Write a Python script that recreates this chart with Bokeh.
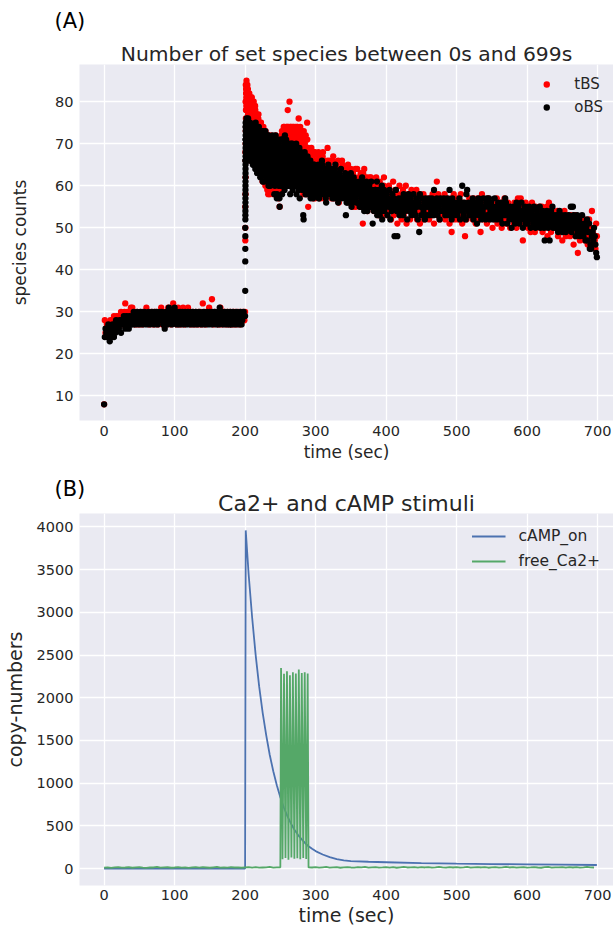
from bokeh.plotting import figure
from bokeh.layouts import column
from bokeh.models import Range1d, FixedTicker, Title, Legend, LegendItem
from bokeh.embed import file_html
from bokeh.resources import INLINE

FONT = "DejaVu Sans"
TXT = "#262626"

# ---------------- Panel A : species counts ----------------
x_ticks = [0, 100, 200, 300, 400, 500, 600, 700]
yA_ticks = [10, 20, 30, 40, 50, 60, 70, 80]

time_pre = list(range(0, 200))                    # 1 s samples
time_mid = [200 + k / 2 for k in range(200)]      # 200.0 .. 299.5
time_mid2 = [200.25 + k / 2 for k in range(200)]  # 200.25 .. 299.75
time_post = list(range(300, 700))                 # 300 .. 699
time_post2 = [300.5 + k for k in range(100)]      # 300.5 .. 399.5

tbs_pre = [
    8, 28, 25, 26, 27, 25, 26, 27, 26, 28, 27, 26, 28, 27, 29, 28, 27, 28, 29, 28,
    28, 29, 27, 28, 30, 29, 28, 27, 29, 30, 32, 29, 28, 30, 27, 29, 28, 30, 31, 29,
    31, 28, 29, 30, 27, 29, 28, 30, 29, 27, 28, 30, 29, 28, 27, 30, 29, 28, 30, 29,
    31, 29, 28, 30, 27, 29, 28, 30, 29, 28, 27, 30, 29, 28, 30, 29, 27, 28, 29, 30,
    28, 31, 29, 27, 30, 28, 29, 30, 27, 28, 29, 31, 28, 30, 29, 27, 28, 30, 32, 29,
    28, 30, 29, 27, 28, 31, 29, 30, 27, 28, 29, 30, 31, 28, 27, 29, 30, 28, 29, 31,
    28, 29, 30, 27, 28, 29, 30, 28, 27, 29, 30, 28, 29, 27, 30, 29, 28, 30, 27, 29,
    32, 29, 28, 30, 27, 29, 28, 30, 29, 31, 28, 30, 29, 33, 28, 27, 29, 30, 28, 29,
    28, 30, 27, 29, 28, 31, 29, 27, 30, 28, 29, 30, 28, 27, 29, 30, 28, 29, 27, 30,
    29, 28, 27, 30, 29, 28, 30, 27, 29, 28, 30, 29, 28, 27, 30, 29, 28, 30, 29, 28,
]
obs_pre = [
    8, 24, 26, 25, 24, 26, 27, 25, 23, 26, 24, 25, 27, 26, 24, 27, 25, 28, 26, 27,
    27, 26, 28, 27, 25, 28, 27, 28, 29, 27, 26, 28, 29, 27, 28, 26, 29, 28, 27, 28,
    29, 27, 30, 28, 29, 27, 28, 30, 29, 28, 27, 29, 30, 28, 29, 27, 28, 30, 29, 28,
    27, 29, 28, 30, 29, 27, 28, 29, 30, 28, 29, 27, 30, 28, 29, 30, 27, 28, 29, 30,
    28, 29, 30, 28, 27, 29, 26, 28, 30, 29, 27, 28, 31, 29, 28, 30, 27, 29, 28, 30,
    31, 29, 28, 27, 30, 28, 29, 27, 30, 28, 29, 30, 27, 28, 29, 30, 28, 27, 29, 30,
    29, 28, 27, 30, 29, 28, 30, 27, 29, 28, 30, 29, 27, 28, 29, 30, 28, 29, 27, 28,
    29, 30, 28, 27, 29, 28, 30, 29, 27, 28, 30, 29, 28, 27, 30, 29, 28, 30, 29, 27,
    28, 29, 30, 27, 31, 28, 29, 30, 28, 27, 29, 30, 28, 29, 27, 30, 29, 28, 27, 30,
    29, 27, 28, 30, 29, 28, 27, 29, 30, 28, 29, 27, 28, 30, 29, 27, 28, 29, 30, 29,
]
tbs_mid = [
    30, 68, 84, 78, 85, 72, 81, 76, 83, 70, 79, 74, 82, 67, 77, 80, 71, 78, 75, 81,
    76, 69, 79, 73, 66, 77, 71, 75, 68, 78, 72, 74, 67, 76, 70, 73, 75, 65, 77, 71,
    74, 66, 72, 70, 63, 75, 68, 71, 64, 73, 69, 62, 74, 67, 70, 61, 72, 66, 73, 64,
    70, 62, 68, 59, 72, 65, 60, 71, 64, 67, 58, 69, 63, 72, 61, 66, 70, 59, 65, 68,
    63, 71, 58, 66, 69, 61, 64, 72, 59, 67, 62, 70, 60, 65, 68, 57, 63, 71, 55, 66,
    61, 68, 64, 72, 59, 70, 66, 73, 62, 69, 65, 74, 60, 71, 67, 73, 63, 72, 69, 74,
    66, 78, 70, 73, 62, 74, 80, 68, 72, 61, 74, 69, 73, 65, 71, 74, 63, 70, 73, 67,
    72, 64, 74, 69, 60, 73, 67, 71, 62, 74, 68, 72, 76, 65, 70, 59, 73, 66, 71, 63,
    69, 73, 62, 67, 72, 58, 70, 64, 68, 71, 61, 66, 72, 60, 65, 69, 75, 63, 67, 55,
    66, 60, 68, 63, 58, 67, 61, 65, 69, 59, 64, 62, 67, 57, 63, 66, 60, 68, 62, 64,
]
tbs_mid2 = [
    55, 80, 74, 83, 69, 79, 84, 73, 77, 82, 68, 76, 80, 72, 78, 66, 75, 81, 70, 77,
    73, 78, 67, 75, 80, 70, 74, 66, 79, 72, 76, 69, 73, 77, 65, 74, 71, 76, 68, 72,
    67, 73, 65, 71, 75, 62, 70, 66, 74, 61, 68, 72, 65, 69, 63, 71, 67, 60, 70, 66,
    64, 69, 61, 66, 70, 58, 67, 63, 71, 60, 65, 68, 62, 59, 66, 71, 64, 61, 67, 63,
    68, 60, 65, 71, 62, 58, 67, 64, 69, 61, 66, 59, 70, 63, 58, 67, 61, 65, 69, 62,
    70, 63, 71, 66, 73, 61, 68, 72, 64, 74, 67, 70, 62, 73, 66, 71, 74, 64, 70, 72,
    71, 74, 64, 69, 72, 66, 73, 70, 62, 74, 67, 71, 60, 73, 68, 72, 65, 74, 69, 71,
    66, 73, 70, 63, 72, 68, 74, 61, 71, 66, 73, 64, 69, 72, 62, 70, 74, 67, 60, 72,
    66, 70, 64, 72, 61, 68, 73, 65, 62, 70, 67, 71, 63, 68, 58, 66, 71, 64, 69, 61,
    63, 67, 59, 65, 62, 68, 60, 66, 58, 64, 67, 61, 65, 59, 63, 68, 61, 64, 57, 62,
]
obs_mid = [
    29, 66, 74, 70, 76, 68, 72, 75, 67, 73, 70, 74, 66, 71, 75, 69, 73, 67, 72, 74,
    68, 72, 65, 74, 70, 66, 73, 69, 71, 64, 75, 67, 72, 70, 63, 73, 68, 71, 66, 74,
    70, 65, 73, 62, 68, 71, 64, 72, 67, 69, 61, 73, 66, 70, 63, 72, 68, 65, 71, 62,
    67, 71, 63, 69, 61, 72, 65, 68, 62, 70, 64, 67, 60, 71, 66, 63, 69, 61, 68, 64,
    70, 62, 66, 58, 68, 64, 61, 71, 63, 67, 57, 69, 65, 62, 70, 60, 66, 63, 55, 68,
    64, 60, 69, 62, 67, 58, 65, 71, 61, 66, 63, 68, 59, 72, 64, 70, 62, 65, 68, 60,
    67, 63, 69, 60, 66, 70, 62, 68, 58, 65, 69, 61, 67, 64, 70, 59, 66, 63, 68, 62,
    65, 69, 61, 67, 63, 70, 58, 66, 64, 68, 60, 67, 62, 65, 69, 57, 66, 63, 68, 61,
    64, 60, 67, 62, 66, 53, 52, 65, 61, 68, 59, 64, 62, 66, 58, 65, 61, 67, 60, 63,
    62, 65, 58, 64, 60, 66, 57, 63, 61, 65, 59, 62, 64, 57, 63, 60, 65, 58, 62, 61,
]
obs_mid2 = [
    50, 71, 75, 69, 73, 66, 74, 70, 76, 67, 72, 69, 75, 68, 73, 71, 66, 74, 70, 72,
    71, 67, 74, 69, 72, 65, 70, 73, 68, 72, 66, 71, 74, 67, 70, 72, 65, 69, 73, 67,
    69, 72, 66, 70, 64, 73, 67, 70, 63, 71, 68, 65, 72, 69, 61, 70, 66, 73, 64, 69,
    65, 68, 70, 63, 67, 72, 60, 69, 66, 64, 71, 62, 68, 65, 70, 61, 67, 72, 63, 66,
    66, 69, 63, 70, 60, 67, 72, 62, 65, 69, 58, 66, 71, 64, 61, 68, 63, 57, 66, 62,
    67, 62, 71, 65, 60, 69, 63, 68, 66, 61, 70, 64, 67, 62, 69, 65, 71, 60, 66, 63,
    64, 68, 61, 67, 63, 69, 65, 60, 67, 63, 70, 64, 62, 68, 66, 61, 69, 64, 60, 67,
    62, 67, 64, 60, 68, 65, 62, 69, 61, 66, 63, 68, 59, 65, 67, 62, 64, 60, 66, 63,
    61, 65, 63, 59, 66, 62, 64, 60, 67, 62, 65, 58, 63, 66, 61, 64, 59, 62, 66, 60,
    64, 60, 62, 66, 59, 63, 61, 65, 58, 62, 64, 60, 63, 59, 65, 61, 62, 58, 64, 60,
]
tbs_post = [
    63, 58, 66, 61, 68, 60, 64, 57, 65, 62, 67, 59, 63, 66, 58, 64, 61, 69, 60, 65,
    62, 66, 58, 64, 60, 67, 57, 63, 61, 65, 59, 62, 66, 56, 63, 60, 64, 58, 65, 61,
    59, 64, 61, 57, 63, 60, 65, 58, 62, 56, 64, 60, 59, 63, 57, 61, 62, 55, 60, 64,
    58, 62, 56, 60, 63, 57, 61, 51, 59, 64, 56, 60, 58, 62, 55, 59, 61, 62, 57, 60,
    56, 61, 58, 54, 60, 57, 62, 55, 59, 53, 58, 61, 56, 60, 54, 59, 57, 62, 55, 58,
    57, 53, 59, 56, 60, 54, 58, 52, 57, 55, 61, 53, 56, 59, 54, 58, 51, 57, 55, 60,
    54, 58, 52, 56, 59, 53, 57, 55, 60, 51, 56, 58, 54, 57, 52, 55, 59, 53, 56, 54,
    57, 53, 55, 59, 52, 56, 54, 58, 51, 55, 57, 53, 56, 58, 52, 55, 54, 57, 53, 56,
    55, 52, 57, 54, 56, 53, 58, 55, 51, 57, 54, 55, 61, 53, 58, 55, 52, 56, 54, 57,
    53, 56, 54, 58, 52, 55, 57, 53, 56, 54, 51, 55, 57, 49, 56, 54, 58, 52, 55, 56,
    54, 57, 52, 55, 56, 53, 58, 54, 51, 56, 55, 53, 48, 54, 52, 56, 55, 53, 57, 54,
    56, 53, 55, 52, 57, 54, 56, 51, 55, 53, 57, 54, 52, 56, 49, 53, 58, 54, 52, 55,
    53, 56, 54, 51, 55, 57, 52, 54, 56, 53, 55, 50, 54, 56, 52, 55, 53, 57, 51, 54,
    55, 52, 54, 56, 50, 53, 55, 52, 57, 54, 51, 55, 53, 56, 52, 54, 50, 55, 53, 52,
    54, 51, 56, 53, 55, 50, 52, 57, 54, 51, 53, 57, 52, 55, 47, 53, 51, 54, 56, 52,
    53, 50, 55, 52, 54, 49, 53, 56, 51, 54, 52, 49, 55, 53, 50, 54, 52, 51, 55, 50,
    52, 55, 49, 53, 51, 54, 50, 52, 55, 48, 53, 56, 51, 53, 49, 52, 54, 50, 53, 51,
    50, 53, 51, 54, 48, 52, 50, 53, 51, 49, 47, 52, 50, 54, 51, 48, 53, 50, 52, 49,
    51, 48, 53, 50, 52, 49, 46, 51, 53, 48, 50, 52, 44, 49, 51, 47, 50, 52, 48, 51,
    49, 52, 47, 50, 48, 51, 46, 49, 52, 47, 50, 48, 54, 49, 46, 48, 47, 45, 51, 48,
]
tbs_post2 = [
    61, 65, 59, 67, 62, 58, 64, 66, 60, 63, 68, 57, 62, 65, 60, 64, 59, 66, 61, 63,
    60, 64, 57, 62, 66, 59, 63, 61, 58, 65, 60, 63, 57, 62, 64, 59, 61, 66, 58, 62,
    62, 58, 61, 64, 57, 60, 63, 59, 56, 62, 60, 58, 63, 55, 61, 59, 64, 57, 60, 58,
    57, 60, 62, 55, 59, 61, 58, 63, 56, 60, 62, 57, 59, 54, 61, 58, 60, 56, 62, 59,
    58, 55, 60, 57, 59, 54, 61, 56, 58, 60, 55, 57, 59, 53, 58, 56, 60, 55, 57, 59,
]
obs_post = [
    60, 64, 58, 62, 65, 57, 61, 63, 59, 66, 60, 62, 58, 64, 61, 56, 63, 60, 65, 59,
    62, 58, 64, 60, 57, 63, 61, 59, 65, 58, 62, 60, 56, 63, 59, 61, 64, 57, 60, 62,
    61, 58, 63, 53, 56, 62, 60, 57, 61, 59, 63, 55, 60, 58, 62, 57, 59, 61, 56, 60,
    59, 56, 61, 58, 60, 55, 62, 57, 59, 54, 60, 58, 61, 56, 59, 57, 60, 55, 58, 61,
    57, 51, 55, 58, 56, 59, 54, 61, 57, 55, 59, 53, 58, 56, 60, 54, 57, 59, 55, 58,
    56, 58, 53, 57, 55, 59, 52, 56, 54, 58, 55, 57, 48, 56, 59, 54, 48, 55, 57, 53,
    56, 54, 57, 55, 53, 58, 56, 54, 57, 55, 52, 56, 58, 54, 55, 57, 53, 56, 55, 58,
    54, 56, 53, 57, 55, 52, 56, 49, 58, 55, 53, 57, 55, 54, 56, 52, 57, 55, 53, 56,
    55, 57, 53, 56, 54, 57, 55, 53, 59, 56, 54, 55, 57, 53, 56, 55, 52, 57, 54, 56,
    56, 54, 57, 55, 53, 56, 54, 57, 55, 53, 59, 56, 54, 52, 57, 55, 53, 56, 54, 55,
    55, 53, 56, 54, 57, 52, 55, 56, 60, 54, 53, 56, 55, 52, 58, 59, 54, 56, 53, 55,
    53, 56, 54, 57, 52, 55, 53, 56, 54, 51, 55, 57, 53, 54, 56, 52, 55, 54, 57, 53,
    55, 52, 56, 57, 53, 55, 57, 52, 54, 56, 53, 55, 52, 54, 57, 53, 55, 52, 54, 56,
    53, 55, 52, 54, 56, 51, 54, 53, 55, 57, 56, 53, 51, 55, 54, 52, 55, 53, 50, 54,
    52, 55, 53, 51, 54, 56, 52, 53, 55, 51, 54, 52, 56, 53, 50, 54, 52, 55, 51, 53,
    54, 51, 53, 55, 52, 50, 54, 52, 53, 51, 55, 52, 50, 53, 54, 51, 53, 52, 55, 50,
    53, 51, 54, 52, 50, 47, 53, 51, 54, 52, 50, 53, 47, 51, 54, 52, 55, 50, 53, 51,
    52, 50, 53, 51, 49, 52, 54, 50, 51, 53, 49, 52, 50, 51, 53, 49, 52, 50, 51, 53,
    50, 52, 55, 49, 51, 55, 53, 50, 52, 48, 51, 53, 49, 50, 52, 48, 51, 49, 53, 50,
    48, 51, 49, 47, 50, 52, 47, 49, 51, 45, 46, 45, 48, 49, 47, 50, 48, 46, 44, 43,
]
obs_post2 = [
    62, 59, 63, 61, 57, 64, 60, 62, 58, 65, 61, 59, 63, 60, 57, 62, 64, 58, 61, 60,
    59, 63, 60, 58, 62, 61, 57, 64, 60, 59, 62, 58, 61, 63, 57, 60, 62, 59, 58, 61,
    60, 57, 62, 59, 61, 56, 60, 58, 62, 57, 59, 61, 56, 60, 58, 61, 57, 59, 60, 56,
    58, 60, 55, 59, 57, 61, 56, 58, 60, 55, 59, 57, 60, 54, 58, 56, 59, 57, 55, 59,
    56, 58, 54, 57, 59, 55, 57, 53, 58, 56, 54, 57, 55, 58, 52, 56, 57, 54, 56, 55,
]
# fast rise right after the 200 s stimulus
tbs_jump_t = [200.3, 200.35, 200.6, 200.7, 200.8, 200.9, 201.0, 201.1, 201.2, 201.3,
              201.4, 201.5, 201.6, 201.7, 201.8, 201.9, 202.1, 202.3, 202.6, 202.9]
tbs_jump = [47, 50, 58, 62, 66, 70, 73, 76, 78, 80, 82, 83, 84, 81, 79, 82, 84, 83, 80, 82]
obs_jump_t = [200.2, 200.25, 200.3, 200.35, 200.4, 200.42, 200.44, 200.46, 200.48, 200.5,
              200.52, 200.54, 200.56, 200.58, 200.6, 200.62, 200.64, 200.66, 200.68, 200.7,
              200.72, 200.74, 200.76, 200.78, 200.8, 200.82, 200.84, 200.86]
obs_jump = [35, 42, 45, 48, 52, 53, 54, 55, 56, 57, 58, 59, 60, 61, 62, 63, 64, 65, 66, 67,
            68, 69, 70, 71, 72, 73, 74, 75]

# ---------------- Panel B : stimuli ----------------
yB_ticks = [0, 500, 1000, 1500, 2000, 2500, 3000, 3500, 4000]
camp_t = [0, 200, 200.9, 205, 210, 215, 220, 225, 230, 235, 240, 245, 250, 255, 260, 265,
          270, 275, 280, 285, 290, 295, 300, 310, 320, 330, 340, 350, 375, 400, 450, 500,
          550, 600, 650, 699]
camp_v = [0, 0, 3960, 3450, 2940, 2500, 2130, 1820, 1560, 1330, 1140, 975, 835, 715, 615, 530,
          455, 395, 345, 300, 262, 232, 205, 165, 135, 112, 97, 87, 80, 74, 63, 57,
          53, 49, 46, 42]
ca_t_pre = list(range(0, 250, 5))
ca_v_pre = [12, 15, 9, 14, 18, 11, 13, 16, 10, 14, 17, 12, 9, 15, 13, 19, 11, 14, 16, 10,
            13, 18, 12, 15, 9, 14, 17, 11, 16, 13, 10, 15, 19, 12, 14, 11, 17, 13, 15, 10,
            14, 18, 12, 16, 11, 13, 15, 19, 12, 14]
ca_t_spk = [250.0, 251.0, 253.1, 255.2, 257.3, 259.4, 261.5, 263.6, 265.7, 267.8, 269.9,
            272.0, 274.1, 276.2, 278.3, 280.4, 282.5, 284.6, 286.7, 288.8, 290.0]
ca_v_spk = [15, 2350, 110, 2280, 125, 2310, 105, 2265, 130, 2300, 115,
            2285, 120, 2330, 108, 2290, 125, 2300, 112, 2285, 14]
ca_t_post = list(range(295, 700, 5))
ca_v_post = [13, 17, 11, 15, 19, 12, 14, 16, 10, 15, 18, 13, 11, 16, 14, 20, 12, 15, 17, 11,
             14, 18, 12, 16, 10, 15, 19, 13, 14, 17, 11, 16, 13, 18, 12, 15, 20, 14, 11, 16,
             13, 17, 12, 15, 19, 11, 14, 16, 13, 18, 10, 15, 17, 12, 14, 19, 13, 16, 11, 15,
             18, 12, 14, 17, 13, 10, 16, 19, 12, 15, 14, 18, 11, 16, 13, 17, 12, 15, 19, 14,
             13]


def styled(height, y_range, yticks, top, bottom, ylabel, label_standoff, label_size,
           xl_standoff, xa_standoff):
    p = figure(width=613, height=height, x_range=Range1d(-34.9, 722.6), y_range=y_range,
               output_backend="svg", toolbar_location=None, title=None,
               min_border_left=79, min_border_right=0, min_border_top=top,
               min_border_bottom=bottom)
    p.background_fill_color = "#EAEAF2"
    p.border_fill_color = "white"
    p.outline_line_color = None
    p.grid.grid_line_color = "white"
    p.grid.grid_line_width = 1.3
    p.xaxis.ticker = FixedTicker(ticks=x_ticks)
    p.yaxis.ticker = FixedTicker(ticks=yticks)
    for ax in p.axis:
        ax.axis_line_color = None
        ax.major_tick_line_color = None
        ax.minor_tick_line_color = None
        ax.major_tick_out = 0
        ax.major_tick_in = 0
        ax.minor_tick_out = 0
        ax.major_label_text_font = FONT
        ax.major_label_text_font_size = "14.5px"
        ax.major_label_text_color = TXT
        ax.axis_label_text_font = FONT
        ax.axis_label_text_font_style = "normal"
        ax.axis_label_text_color = TXT
        ax.axis_label_text_font_size = label_size
    p.xaxis.major_label_standoff = xl_standoff
    p.xaxis.axis_label_standoff = xa_standoff
    p.yaxis.major_label_standoff = 6
    p.yaxis.axis_label_standoff = label_standoff
    p.xaxis.axis_label = "time (sec)"
    p.yaxis.axis_label = ylabel
    return p


def title(text, size, standoff, align="center", offset=0, valign="bottom", color=TXT):
    return Title(text=text, align=align, offset=offset, vertical_align=valign,
                 text_font=FONT, text_font_size=size, text_font_style="normal",
                 text_color=color, standoff=standoff)


# ---- figure A ----
pA = styled(466, Range1d(4.15, 88.85), yA_ticks, 64, 46, "species counts", 22, "17px", 5, 3)
pA.add_layout(title("Number of set species between 0s and 699s", "20.3px", -2), "above")
pA.add_layout(title("(A)", "21px", 12, align="left", offset=-25, valign="top",
                    color="black"), "above")
red = pA.scatter(time_pre + time_mid + time_mid2 + tbs_jump_t + time_post + time_post2,
                 tbs_pre + tbs_mid + tbs_mid2 + tbs_jump + tbs_post + tbs_post2,
                 size=6.3, fill_color="#FF0000", line_color=None)
blk = pA.scatter(time_pre + time_mid + time_mid2 + obs_jump_t + time_post + time_post2,
                 obs_pre + obs_mid + obs_mid2 + obs_jump + obs_post + obs_post2,
                 size=6.3, fill_color="#000000", line_color=None)
legA = Legend(items=[LegendItem(label="tBS", renderers=[red]),
                     LegendItem(label="oBS", renderers=[blk])],
              location="top_right", background_fill_alpha=0, border_line_color=None,
              label_text_font=FONT, label_text_font_size="15px", label_text_color=TXT,
              glyph_width=16, glyph_height=20, label_height=20, label_standoff=20,
              spacing=3, padding=10, margin=10)
pA.add_layout(legA)

# ---- figure B ----
pB = styled(462, Range1d(-198, 4158), yB_ticks, 47, 43, "copy-numbers", 8, "19px", 4, 1)
pB.add_layout(title("Ca2+ and cAMP stimuli", "22px", -4), "above")
pB.add_layout(title("(B)", "21px", -20, align="left", offset=-25, color="black"), "above")
l1 = pB.line(camp_t, camp_v, line_color="#4C72B0", line_width=1.8)
l2 = pB.line(ca_t_pre + ca_t_spk + ca_t_post, ca_v_pre + ca_v_spk + ca_v_post,
             line_color="#55A868", line_width=1.8)
legB = Legend(items=[LegendItem(label="cAMP_on", renderers=[l1]),
                     LegendItem(label="free_Ca2+", renderers=[l2])],
              location="top_right", background_fill_alpha=0, border_line_color=None,
              label_text_font=FONT, label_text_font_size="15.5px", label_text_color=TXT,
              glyph_width=34, glyph_height=20, label_height=20, label_standoff=13,
              spacing=5, padding=10, margin=13)
pB.add_layout(legB)

layout = column(pA, pB, spacing=0)
open("out.html", "w").write(file_html(layout, INLINE))
